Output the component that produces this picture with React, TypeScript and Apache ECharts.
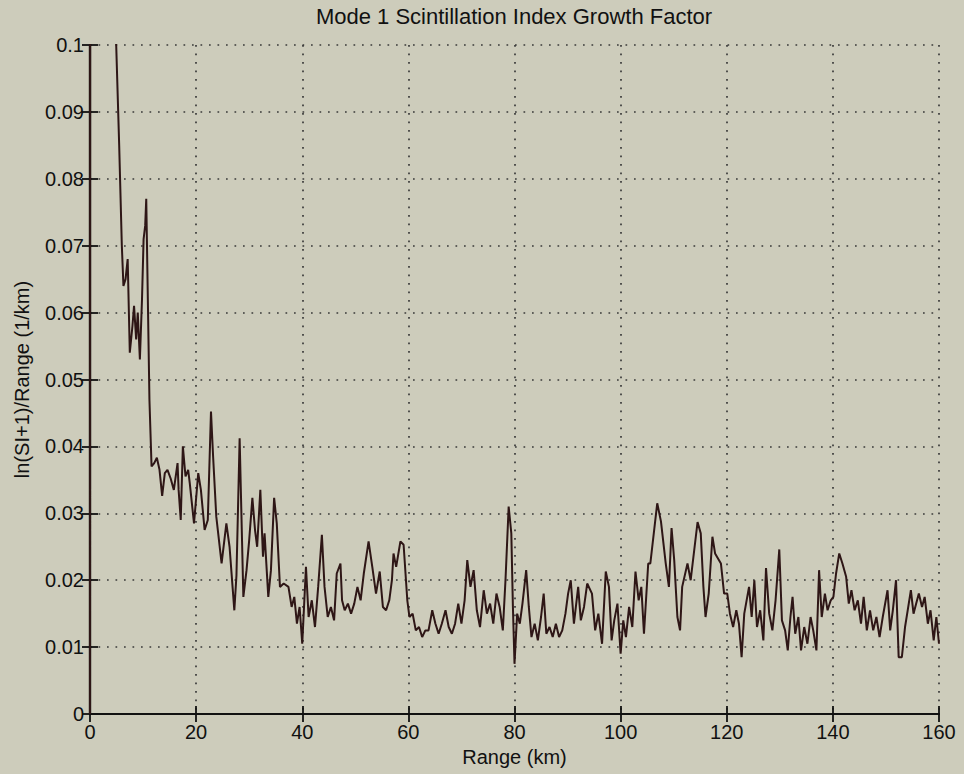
import React, { useEffect, useRef } from "react";
import * as echarts from "echarts";

const titleText = "Mode 1 Scintillation Index Growth Factor";
const xName = "Range (km)";
const yName = "ln(SI+1)/Range (1/km)";
const xTicks = [0, 20, 40, 60, 80, 100, 120, 140, 160];
const yTicks = [0, 0.01, 0.02, 0.03, 0.04, 0.05, 0.06, 0.07, 0.08, 0.09, 0.1];

const rangeKm = [
  0, 0.25, 2, 4, 4.9, 5.5, 6.0, 6.3, 6.7, 7.1, 7.5, 8.0, 8.3, 8.7, 9.0, 9.4, 9.8, 10.1, 10.4, 10.6,
  10.9, 11.2, 11.6, 12.1, 12.6, 13.1, 13.6, 14.1, 14.6, 15.2, 15.8, 16.5, 16.7, 17.1, 17.5, 18.0, 18.5, 18.8, 19.6, 20.4,
  20.9, 21.6, 22.2, 22.8, 23.2, 23.8, 24.8, 25.7, 26.3, 27.2, 27.6, 28.2, 28.9, 29.5, 30.0, 30.6, 31.1, 31.5, 32.1, 32.6,
  32.9, 33.6, 34.1, 34.7, 35.2, 35.8, 36.5, 37.4, 38.0, 38.5, 39.0, 39.5, 40.0, 40.7, 41.2, 41.8, 42.4, 43.0, 43.7, 44.2,
  44.8, 45.4, 46.0, 46.5, 47.2, 47.5, 48.0, 48.6, 49.2, 49.8, 50.4, 51.0, 51.6, 52.5, 53.2, 53.9, 54.6, 55.2, 55.8, 56.4,
  56.9, 57.2, 57.7, 58.5, 59.1, 59.8, 60.2, 60.8, 61.4, 62.0, 62.6, 63.2, 63.8, 64.5, 65.1, 65.7, 66.3, 67.0, 67.6, 68.2,
  68.8, 69.4, 70.0, 70.6, 71.1, 71.7, 72.3, 72.9, 73.5, 74.2, 74.8, 75.4, 76.0, 76.6, 77.2, 77.8, 78.3, 78.9, 79.4, 79.7,
  80.0, 80.5, 81.0, 81.5, 82.2, 82.7, 83.2, 83.8, 84.4, 85.0, 85.5, 86.0, 86.6, 87.2, 87.8, 88.4, 89.0, 89.6, 90.1, 90.6,
  91.2, 92.0, 92.5, 93.1, 93.7, 94.6, 95.2, 95.8, 96.5, 97.2, 97.8, 98.3, 98.8, 99.4, 100.0, 100.5, 101.0, 101.6, 102.2, 102.8,
  103.4, 103.9, 104.4, 105.2, 105.6, 106.9, 107.6, 108.5, 109.1, 109.6, 110.1, 110.7, 111.2, 111.6, 112.6, 113.2, 114.5, 115.1, 115.6, 116.0,
  116.6, 117.3, 117.8, 118.9, 119.5, 120.1, 120.6, 121.2, 121.8, 122.3, 122.8, 123.3, 124.2, 124.7, 125.2, 125.7, 126.3, 126.9, 127.4, 128.0,
  128.6, 129.2, 129.9, 130.4, 131.0, 131.5, 132.0, 132.4, 132.9, 133.5, 134.0, 134.6, 135.2, 135.8, 136.3, 136.9, 137.4, 137.9, 138.5, 139.0,
  139.6, 140.1, 140.6, 141.2, 141.8, 142.5, 143.0, 143.5, 144.1, 144.7, 145.3, 145.8, 146.4, 147.0, 147.6, 148.2, 148.8, 149.4, 150.3, 150.8,
  151.3, 151.9, 152.4, 153.0, 153.6, 154.1, 154.7, 155.2, 155.7, 156.2, 156.8, 157.3, 157.9, 158.4, 159.0, 159.5, 160.0,
];

const growth = [
  0, 1.2, 0.3, 0.13, 0.101, 0.085, 0.07, 0.064, 0.065, 0.068, 0.054, 0.058, 0.061, 0.056, 0.06, 0.053, 0.062, 0.071, 0.073, 0.077,
  0.062, 0.047, 0.037, 0.0375, 0.0383, 0.0365, 0.0326, 0.036, 0.0365, 0.0352, 0.0335, 0.0375, 0.0335, 0.029, 0.04, 0.0355, 0.0365, 0.0345, 0.0285, 0.036,
  0.0335, 0.0275, 0.029, 0.0452, 0.0385, 0.0295, 0.0225, 0.0285, 0.025, 0.0155, 0.0207, 0.0412, 0.0175, 0.0215, 0.026, 0.0323, 0.0275, 0.025, 0.0335, 0.0235,
  0.027, 0.0175, 0.0215, 0.0323, 0.0285, 0.019, 0.0195, 0.019, 0.016, 0.0175, 0.0135, 0.016, 0.0105, 0.022, 0.0145, 0.017, 0.013, 0.019, 0.0268, 0.019,
  0.0145, 0.016, 0.014, 0.021, 0.0225, 0.017, 0.0155, 0.0165, 0.015, 0.0165, 0.019, 0.017, 0.021, 0.0258, 0.022, 0.018, 0.0213, 0.016, 0.0155, 0.017,
  0.02, 0.024, 0.022, 0.0258, 0.0253, 0.017, 0.0145, 0.015, 0.0125, 0.013, 0.0115, 0.0125, 0.0125, 0.0155, 0.0135, 0.012, 0.0135, 0.0155, 0.013, 0.012,
  0.0135, 0.0165, 0.0135, 0.017, 0.023, 0.019, 0.0215, 0.0155, 0.013, 0.0185, 0.015, 0.0165, 0.0135, 0.018, 0.016, 0.0125, 0.02, 0.031, 0.027, 0.016,
  0.0075, 0.015, 0.0135, 0.0165, 0.0215, 0.016, 0.0115, 0.0135, 0.011, 0.0145, 0.018, 0.012, 0.013, 0.0115, 0.0135, 0.0115, 0.0125, 0.015, 0.018, 0.02,
  0.0135, 0.019, 0.014, 0.016, 0.0195, 0.018, 0.0125, 0.015, 0.0105, 0.0213, 0.019, 0.011, 0.014, 0.0165, 0.009, 0.014, 0.0115, 0.016, 0.013, 0.0213,
  0.017, 0.019, 0.012, 0.0225, 0.0225, 0.0315, 0.0288, 0.0225, 0.019, 0.0278, 0.023, 0.0145, 0.0125, 0.019, 0.0225, 0.02, 0.0287, 0.027, 0.019, 0.0145,
  0.018, 0.0265, 0.024, 0.0225, 0.018, 0.018, 0.015, 0.013, 0.0155, 0.0135, 0.0085, 0.015, 0.019, 0.0145, 0.02, 0.013, 0.0155, 0.011, 0.0218, 0.015,
  0.0125, 0.017, 0.0246, 0.014, 0.0125, 0.0095, 0.0145, 0.0175, 0.012, 0.0145, 0.0095, 0.013, 0.0105, 0.0145, 0.0125, 0.0095, 0.0215, 0.0145, 0.018, 0.0155,
  0.017, 0.0175, 0.021, 0.024, 0.0225, 0.0205, 0.0165, 0.0185, 0.0155, 0.017, 0.0135, 0.0175, 0.0125, 0.0155, 0.0125, 0.0145, 0.0115, 0.0145, 0.0185, 0.0125,
  0.0155, 0.02, 0.0085, 0.0085, 0.013, 0.0155, 0.0185, 0.015, 0.0165, 0.018, 0.016, 0.0175, 0.0135, 0.0155, 0.011, 0.0145, 0.0105,
];

const FONT = "'Liberation Sans', Arial, Helvetica, sans-serif";
const BG = "#cdccbb";

export default function App() {
  const ref = useRef<HTMLDivElement>(null);

  useEffect(() => {
    if (!ref.current) return;
    const chart = echarts.init(ref.current, undefined, { renderer: "svg" });
    const data = rangeKm.map((x, i) => [x, growth[i]]);
    const gridLine = {
      show: true,
      lineStyle: { color: "#3a3a3a", width: 1.7, type: [1.7, 6.8] as any },
    };
    const axisLine = { show: true, lineStyle: { color: "#111", width: 2.2 } };
    const tick = { show: true, inside: true, length: 8, lineStyle: { color: "#111", width: 1.8 } };
    const fmtY = (v: number) => String(parseFloat(v.toFixed(2)));
    chart.setOption({
      animation: false,
      backgroundColor: BG,
      textStyle: { fontFamily: FONT },
      grid: { left: 90, right: 25, top: 45, bottom: 60, containLabel: false },
      graphic: [
        {
          type: "text",
          x: 514,
          y: 16,
          style: {
            text: titleText,
            fontSize: 22,
            fontFamily: FONT,
            fill: "#111",
            textAlign: "center",
            textVerticalAlign: "middle",
          },
        },
      ],
      xAxis: [
        {
          type: "value",
          min: xTicks[0],
          max: xTicks[xTicks.length - 1],
          interval: 20,
          position: "bottom",
          axisLine,
          axisTick: tick,
          axisLabel: { color: "#111", fontSize: 20, margin: 8, fontFamily: FONT },
          splitLine: gridLine,
          name: xName,
          nameLocation: "middle",
          nameGap: 30,
          nameTextStyle: { color: "#111", fontSize: 20, fontFamily: FONT },
        },
        {
          type: "value",
          min: xTicks[0],
          max: xTicks[xTicks.length - 1],
          interval: 20,
          position: "top",
          axisLine,
          axisTick: tick,
          axisLabel: { show: false },
          splitLine: { show: false },
        },
      ],
      yAxis: [
        {
          type: "value",
          min: yTicks[0],
          max: yTicks[yTicks.length - 1],
          interval: 0.01,
          position: "left",
          axisLine,
          axisTick: tick,
          axisLabel: { color: "#111", fontSize: 20, margin: 6, formatter: fmtY, fontFamily: FONT },
          splitLine: gridLine,
          name: yName,
          nameLocation: "middle",
          nameGap: 58,
          nameRotate: 90,
          nameTextStyle: { color: "#111", fontSize: 20, fontFamily: FONT },
        },
        {
          type: "value",
          min: yTicks[0],
          max: yTicks[yTicks.length - 1],
          interval: 0.01,
          position: "right",
          axisLine,
          axisTick: tick,
          axisLabel: { show: false },
          splitLine: { show: false },
        },
      ],
      series: [
        {
          type: "line",
          xAxisIndex: 0,
          yAxisIndex: 0,
          data,
          showSymbol: false,
          clip: true,
          lineStyle: { color: "#2e1616", width: 2 },
          z: 5,
        },
      ],
    });
    return () => chart.dispose();
  }, []);

  return (
    <div
      ref={ref}
      style={{ position: "fixed", left: 0, top: 0, width: 964, height: 774, background: BG }}
    />
  );
}
